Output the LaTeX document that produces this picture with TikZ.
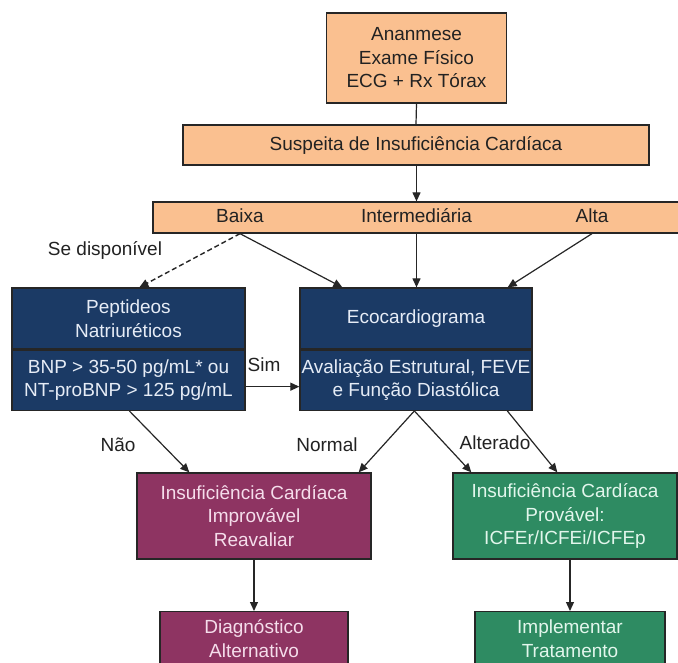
\documentclass[tikz,border=0pt]{standalone}
\usepackage{fontspec}
\setmainfont{Liberation Sans}
\usetikzlibrary{arrows.meta,calc}
\definecolor{orangefill}{HTML}{FAC090}
\definecolor{navyfill}{HTML}{1B3A65}
\definecolor{purplefill}{HTML}{8E3462}
\definecolor{greenfill}{HTML}{2E8B62}
\definecolor{navytext}{HTML}{E6ECF6}
\definecolor{purpletext}{HTML}{F5DDEB}
\definecolor{greentext}{HTML}{E2F6EC}
\definecolor{darktext}{HTML}{222222}
\tikzset{
  box/.style={draw=black!85, line width=1.3pt, inner sep=0pt, align=center,
    font=\fontsize{19}{23.5}\selectfont},
  obox/.style={box, fill=orangefill, text=darktext},
  nbox/.style={box, fill=navyfill, text=navytext},
  pbox/.style={box, fill=purplefill, text=purpletext},
  gbox/.style={box, fill=greenfill, text=greentext},
  lbl/.style={inner sep=0pt, text=darktext, text height=13.5pt, text depth=4pt,
    font=\fontsize{19}{23.5}\selectfont},
  conn/.style={line width=1.2pt, black!85, -{Triangle[length=9pt,width=8pt]}},
  dashconn/.style={conn, line width=1.4pt, dash pattern=on 5pt off 3pt},
}
\begin{document}
\begin{tikzpicture}[x=1pt,y=-1pt]
\useasboundingbox (0,0) rectangle (678,662);
\fill[white] (0,0) rectangle (678,662);
% top boxes
\node[obox, minimum width=180pt, minimum height=90pt] (anam) at (416.5,58) {Ananmese\\Exame Físico\\ECG + Rx Tórax};
\node[obox, minimum width=466pt, minimum height=40pt] (susp) at (416,145) {Suspeita de Insuficiência Cardíaca};
\node[obox, minimum width=528pt, minimum height=31pt] (risk) at (417,217.5) {};
\node[lbl] (baixa) at (240,217.5) {Baixa};
\node[lbl] (inter) at (416.5,217.5) {Intermediária};
\node[lbl] (alta) at (592,217.5) {Alta};
% peptides
\node[nbox, minimum width=233pt, minimum height=61pt] (pepT) at (128.5,318.5) {Peptideos\\Natriuréticos};
\node[nbox, minimum width=233pt, minimum height=60pt, anchor=north] (pepB) at (pepT.south) {BNP > 35-50 pg/mL* ou\\NT-proBNP > 125 pg/mL};
% echo
\node[nbox, minimum width=232pt, minimum height=61pt] (ecoT) at (416,318.5) {Ecocardiograma};
\node[nbox, minimum width=232pt, minimum height=60pt, anchor=north] (ecoB) at (ecoT.south) {Avaliação Estrutural, FEVE\\e Função Diastólica};
% outcomes
\node[pbox, minimum width=234pt, minimum height=86pt] (improv) at (254,516) {Insuficiência Cardíaca\\Improvável\\Reavaliar};
\node[gbox, minimum width=224pt, minimum height=86pt] (prov) at (565,516) {Insuficiência Cardíaca\\Provável:\\ICFEr/ICFEi/ICFEp};
\node[pbox, minimum width=188pt, minimum height=54pt, anchor=north] (diag) at (254,611) {Diagnóstico\\Alternativo};
\node[gbox, minimum width=190pt, minimum height=54pt, anchor=north] (impl) at (570,611) {Implementar\\Tratamento};
% labels
\node[lbl] (sedisp) at (105,251) {Se disponível};
\node[lbl] (sim) at (264,367) {Sim};
\node[lbl] (nao) at (118,447) {Não};
\node[lbl] (normal) at (327,447) {Normal};
\node[lbl] (alter) at (495,445) {Alterado};
% connectors
\draw[line width=1.2pt, black!85] (anam.south) -- (susp.north);
\draw[conn] (susp.south -| inter) -- (risk.north -| inter);
\draw[dashconn] (baixa |- risk.south) -- ($(pepT.north west)+(128,0)$);
\draw[conn] (baixa |- risk.south) -- ($(ecoT.north west)+(43,0)$);
\draw[conn] (inter |- risk.south) -- (inter |- ecoT.north);
\draw[conn] (alta |- risk.south) -- ($(ecoT.north east)+(-25,0)$);
\draw[conn] ($(pepB.north east)+(0,37)$) -- ($(ecoB.north west)+(0,37)$);
\draw[conn] ($(pepB.south west)+(118,0)$) -- ($(improv.north west)+(53,0)$);
\draw[conn] ($(ecoB.south west)+(115,0)$) -- ($(improv.north east)+(-13,0)$);
\draw[conn] ($(ecoB.south west)+(115,0)$) -- ($(prov.north west)+(19,0)$);
\draw[conn] ($(ecoB.south west)+(208,0)$) -- ($(prov.north west)+(105,0)$);
\draw[conn] (improv.south) -- (diag.north);
\draw[conn] (improv.south -| impl) -- (impl.north);
\end{tikzpicture}
\end{document}
